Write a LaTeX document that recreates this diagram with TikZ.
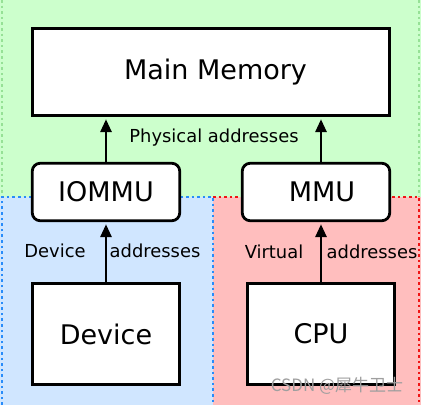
\documentclass[tikz,border=0pt]{standalone}
\usepackage{fontspec}
\setmainfont{DejaVu Sans}
\newfontfamily\cjkfont{Noto Sans CJK SC}
\usepackage{tikz}
\usetikzlibrary{arrows.meta}
\definecolor{zngreen}{RGB}{204,255,204}
\definecolor{znblue}{RGB}{208,230,255}
\definecolor{znred}{RGB}{255,190,190}
\definecolor{lngreen}{RGB}{150,225,150}
\definecolor{lnblue}{RGB}{40,140,250}
\definecolor{lnred}{RGB}{240,20,20}

\begin{document}
\begin{tikzpicture}[x=1pt, y=-1pt,
  every node/.style={font=\fontsize{27}{31}\selectfont},
  unit/.style={draw, line width=2.8pt, fill=white, minimum width=147.5pt,
    minimum height=101.5pt, inner sep=0pt},
  mmubox/.style={unit, rounded corners=8pt, minimum height=57.5pt},
  memory/.style={unit, minimum width=357.5pt, minimum height=87.5pt},
  arr/.style={-{Triangle[length=13pt, width=11pt]}, line width=2.8pt,
    shorten >=2pt},
  lab/.style={font=\fontsize{17.9}{20}\selectfont, inner sep=0pt},
  zone/.style={line width=2.2pt, dash pattern=on 2.6pt off 3pt}
]
  \useasboundingbox (0,0) rectangle (421,405);
  \clip (0,0) rectangle (421,405);

  % address spaces
  \fill[zngreen] (0,0) rectangle (421,197);
  \fill[znblue] (0,197) rectangle (213,405);
  \fill[znred] (213,197) rectangle (421,405);
  \draw[zone, lngreen] (2,0) -- (2,197);
  \draw[zone, lngreen] (419,0) -- (419,197);
  \draw[zone, lnblue] (2,405) -- (2,197) -- (213,197) -- (213,405);
  \draw[zone, lnred] (213,197) -- (419,197) -- (419,405);

  \node[memory] (mem) at (211,72) {\hspace{9pt}\raisebox{-2pt}{Main Memory}};
  \node[mmubox] (iommu) at (106,192) {IOMMU};
  \node[mmubox] (mmu) at (316,192) {\hspace{12pt}MMU};
  \node[unit] (dev) at (106,334) {Device};
  \node[unit] (cpu) at (321,334) {CPU};

  \draw[arr] (dev.north) -- (iommu.south);
  \draw[arr] (iommu.north) -- (iommu.north |- mem.south);
  \draw[arr] (cpu.north) -- (cpu.north |- mmu.south);
  \draw[arr] (cpu.north |- mmu.north) -- (cpu.north |- mem.south);

  \node[lab] (phys) at (214,138) {Physical addresses};
  \node[lab] (devl) at (55,251) {Device};
  \node[lab] (deva) at (155,251) {addresses};
  \node[lab] (virl) at (274,252) {Virtual};
  \node[lab] (vira) at (372,252) {addresses};

  \node[font=\cjkfont\fontsize{17}{20}\selectfont, text=gray!75, inner sep=0pt]
    (mark) at (337,386) {CSDN @犀牛卫士};
\end{tikzpicture}
\end{document}
